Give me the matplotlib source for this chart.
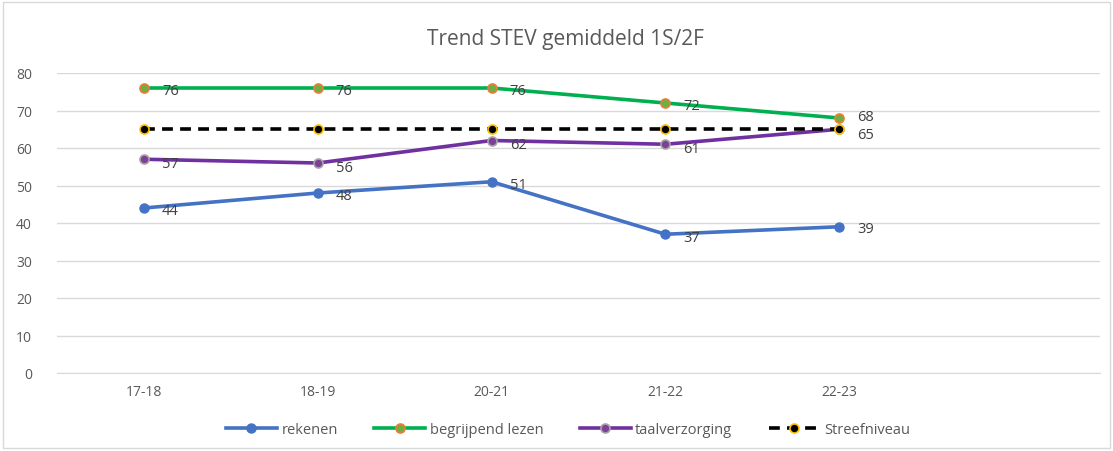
import matplotlib.pyplot as plt
from matplotlib.patches import Rectangle

jaren = ["17-18", "18-19", "20-21", "21-22", "22-23"]
rekenen = [44, 48, 51, 37, 39]
begrijpend = [76, 76, 76, 72, 68]
taal = [57, 56, 62, 61, 65]
streef = [65, 65, 65, 65, 65]

plt.rcParams['font.family'] = ['Open Sans', 'DejaVu Sans']

fig = plt.figure(figsize=(11.13, 4.52), dpi=100)
ax = fig.add_axes([57 / 1113, 1 - 374 / 452, (1100 - 57) / 1113, 300 / 452])

x = list(range(len(jaren)))
ax.plot(x, rekenen, color='#4472C4', lw=2.6, marker='o', ms=6.5,
        mfc='#4472C4', mec='#4472C4', label='rekenen', zorder=3)
ax.plot(x, begrijpend, color='#00B050', lw=2.6, marker='o', ms=6.5,
        mfc='#70AD47', mec='#ED7D31', mew=1.2, label='begrijpend lezen', zorder=3)
ax.plot(x, taal, color='#7030A0', lw=2.6, marker='o', ms=6.5,
        mfc='#7F3F98', mec='#A5A5A5', mew=1.2, label='taalverzorging', zorder=3)
ax.plot(x, streef, color='black', lw=2.6, ls=(0, (3, 2)), marker='o', ms=6.5,
        mfc='black', mec='#FFC000', mew=1.2, label='Streefniveau', zorder=4)

for serie, dy in [(rekenen, -2), (begrijpend, -2), (taal, -3)]:
    for i, v in enumerate(serie[:-1]):
        ax.annotate(str(v), (i, v), xytext=(13, dy), textcoords='offset points',
                    va='center', ha='left', fontsize=10.5, color='#404040')
# laatste jaar: labels rechts van de punten, 68 iets omhoog en 65 omlaag
ax.annotate(str(rekenen[-1]), (4, rekenen[-1]), xytext=(13, -1), textcoords='offset points',
            va='center', ha='left', fontsize=10.5, color='#404040')
ax.annotate(str(begrijpend[-1]), (4, begrijpend[-1]), xytext=(13, 1), textcoords='offset points',
            va='center', ha='left', fontsize=10.5, color='#404040')
ax.annotate(str(streef[-1]), (4, streef[-1]), xytext=(13, -4), textcoords='offset points',
            va='center', ha='left', fontsize=10.5, color='#404040')

ax.set_xlim(-0.5, 5.5)
ax.set_ylim(0, 80)
ax.set_yticks(range(0, 81, 10))
ax.set_xticks(x)
ax.set_xticklabels(jaren)
ax.tick_params(length=0, labelsize=10, colors='#595959', pad=8)
ax.tick_params(axis='y', pad=18)
ax.grid(axis='y', color='#D9D9D9', lw=1)
ax.set_axisbelow(True)
for s in ['top', 'right', 'left']:
    ax.spines[s].set_visible(False)
ax.spines['bottom'].set_color('#D9D9D9')

fig.text(565 / 1113, 1 - 40 / 452, 'Trend STEV gemiddeld 1S/2F', ha='center', va='center',
         fontsize=15, color='#595959')

fig.legend(loc='center', bbox_to_anchor=(568 / 1113, 1 - 431 / 452), ncol=4,
           frameon=False, fontsize=10.5, labelcolor='#595959', handlelength=3.5,
           columnspacing=2.5, handletextpad=0.3)

fig.patches.append(Rectangle((3 / 1113, 3 / 452), 1 - 6 / 1113, 1 - 6 / 452,
                             transform=fig.transFigure, fill=False,
                             edgecolor='#D9D9D9', lw=1))

fig.savefig('out.png', dpi=100)
